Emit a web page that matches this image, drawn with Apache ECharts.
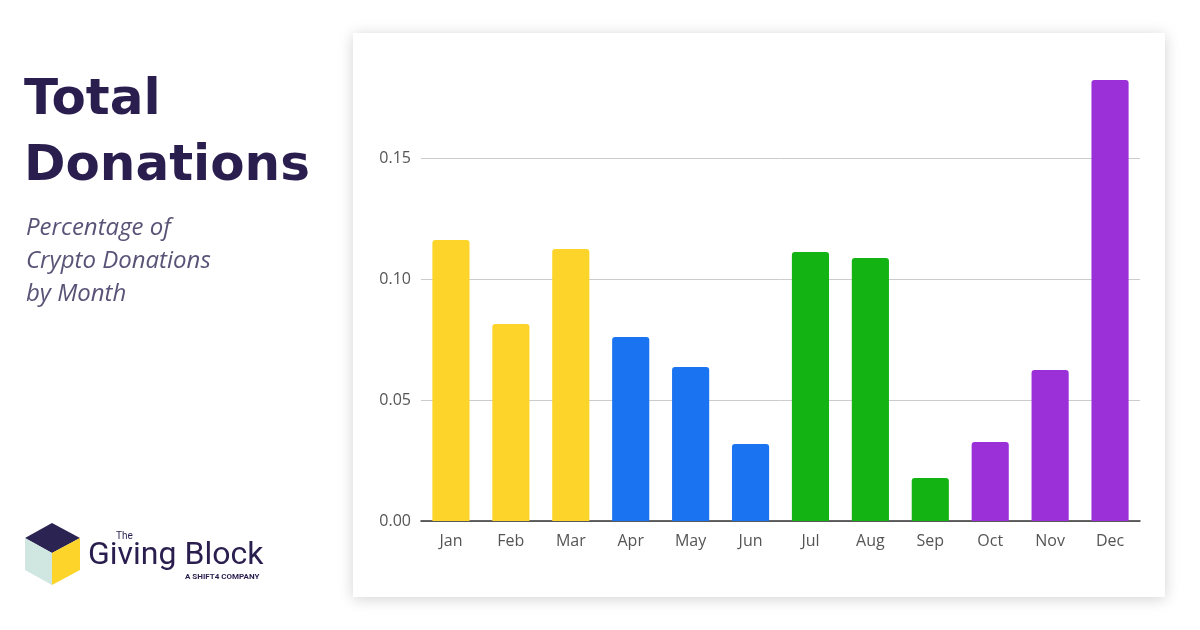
<!DOCTYPE html>
<html><head><meta charset="utf-8">
<script src="https://cdn.jsdelivr.net/npm/echarts@6/dist/echarts.min.js"></script>
<style>html,body{margin:0;padding:0;background:#fff}#c{width:1200px;height:630px}</style>
</head><body><div id="c"></div>
<script>
// data
const months = ['Jan','Feb','Mar','Apr','May','Jun','Jul','Aug','Sep','Oct','Nov','Dec'];
const share = [0.1161,0.0814,0.1124,0.0760,0.0636,0.0318,0.1112,0.1087,0.0178,0.0326,0.0624,0.1822];
const quarterColors = ['#FDD52A','#1A73F0','#12B312','#9B30D9'];
const yTicks = [0, 0.05, 0.10, 0.15];

const navy = '#2A1E4F';
const chart = echarts.init(document.getElementById('c'));
chart.setOption({
  backgroundColor: '#fff',
  animation: false,
  grid: { left: 421, right: 60, top: 37, bottom: 109 },
  xAxis: {
    type: 'category', data: months,
    axisLine: { lineStyle: { color: '#333', width: 1.5 } },
    axisTick: { show: false },
    axisLabel: { color: '#555', fontSize: 16, fontFamily: 'Open Sans', margin: 12 }
  },
  yAxis: {
    type: 'value', min: 0, max: 0.2, interval: 0.05,
    axisLabel: {
      color: '#555', fontSize: 16, fontFamily: 'Open Sans', margin: 10,
      formatter: v => yTicks.some(t => Math.abs(t - v) < 1e-9) ? v.toFixed(2) : ''
    },
    splitLine: { lineStyle: { color: ['#ccc','#ccc','#ccc','#ccc','rgba(0,0,0,0)'] } }
  },
  series: [{
    type: 'bar', barWidth: '62%',
    data: share.map((v, i) => ({ value: v, itemStyle: { color: quarterColors[Math.floor(i / 3)] } })),
    itemStyle: { borderRadius: [3,3,0,0] }
  }],
  graphic: [
    { type: 'rect', z: -10, shape: { x: 353, y: 33, width: 812, height: 564 },
      style: { fill: '#fff', shadowBlur: 14, shadowColor: 'rgba(0,0,0,0.18)', shadowOffsetY: 2 } },
    { type: 'text', left: 24, top: 76, style: { text: 'Total', font: 'bold 50px "DejaVu Sans"', fill: navy } },
    { type: 'text', left: 24, top: 142, style: { text: 'Donations', font: 'bold 50px "DejaVu Sans"', fill: navy } },
    { type: 'text', left: 26, top: 212, style: { text: 'Percentage of\nCrypto Donations\nby Month', font: 'italic 24px "Open Sans"', lineHeight: 33, fill: '#5a5377' } },
    { type: 'polygon', shape: { points: [[52,523],[80,538],[52,553],[25,538]] }, style: { fill: '#2b2452' } },
    { type: 'polygon', shape: { points: [[25,538],[52,553],[52,585],[25,570]] }, style: { fill: '#cfe6e1' } },
    { type: 'polygon', shape: { points: [[52,553],[80,538],[80,570],[52,585]] }, style: { fill: '#FDD52A' } },
    { type: 'text', left: 116, top: 531, style: { text: 'The', font: '10px Roboto', fill: navy } },
    { type: 'text', left: 88, top: 540, style: { text: 'Giving Block', font: '32px Roboto', fill: navy } },
    { type: 'text', left: 185, top: 573, style: { text: 'A SHIFT4 COMPANY', font: 'bold 8px Roboto', fill: navy } }
  ]
});
</script></body></html>
